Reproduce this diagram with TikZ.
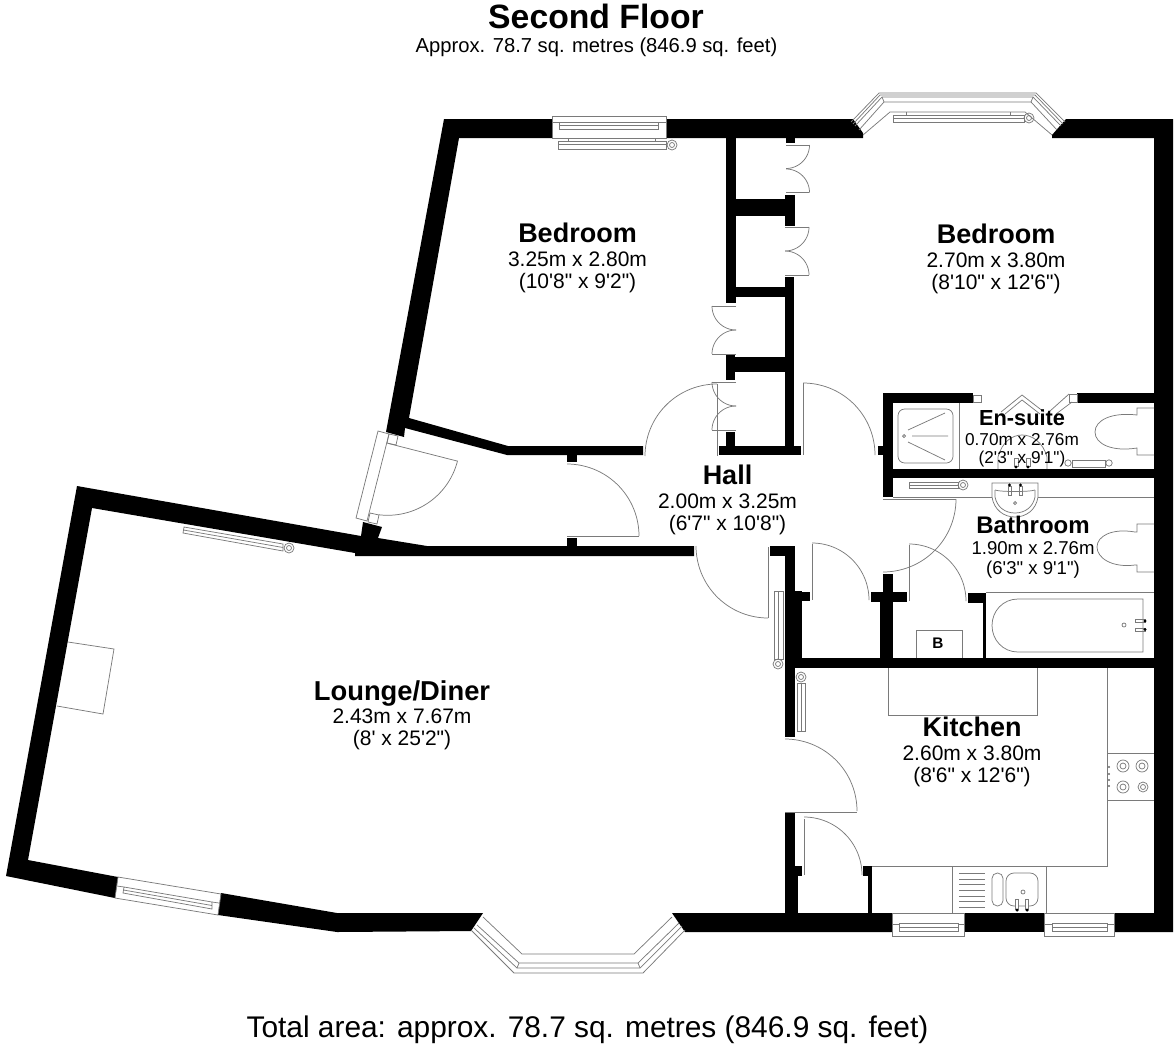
\documentclass[tikz,border=0pt]{standalone}
\usepackage{fontspec}
\setmainfont{Liberation Sans}[Ligatures=TeXOff]
\tikzset{
  fix/.style={draw=black!52,line width=.55pt,line join=miter},
  wall/.style={fill=black,draw=none},
  roomtext/.style={align=center,inner sep=0pt,text=black}
}
\newcommand\swing[5]{\draw[fix] plot[domain=#4:#5,samples=30] ({#1+#3*cos(\x)},{#2+#3*sin(\x)});}
\newcommand\wblock[4]{\fill[wall] (#1,#2) rectangle (#3,#4);}
\newcommand\ring[3]{\draw[fix] (#1,#2) circle[radius=#3*.75pt];}
% name, x, y, title, dim1, dim2, title pt, dim pt, leading pt
\newcommand\room[9]{\node[roomtext,font=\fontsize{#8}{#9}\selectfont] (#1) at (#2,#3) {\fontsize{#7}{#9}\selectfont\bfseries #4\\[1pt]#5\\#6};}
\begin{document}
\begin{tikzpicture}[x=.75pt,y=-.75pt]
\useasboundingbox (0,0) rectangle (1176,1049);
% ---- main walls
\fill[wall] (444,119)--(552,119)--(552,138)--(459,138)--(409,418)--(508,446)--(643,446)--(643,455)--(507,455)--(405,428)--(404,437)--(386,432)--cycle;
\fill[wall] (666,119)--(853,119)--(863,133)--(863,138)--(666,138)--cycle;
\fill[wall] (1066,119)--(1173,119)--(1173,932)--(1114,932)--(1114,913)--(1154,913)--(1154,138)--(1052,138)--(1052,135)--cycle;
\wblock{965}{913}{1044}{932}
\fill[wall] (892,913)--(892,932)--(685,932)--(672,913)--cycle;
\fill[wall] (483,913)--(471,931)--(337,932)--(218,915)--(221,893)--(337,913)--cycle;
\fill[wall] (118,877)--(115,898)--(6,876)--(77,486)--(361,536)--(363,522)--(382,527)--(378,538)--(427,546)--(694,546)--(694,556)--(355,556)--(355,553)--(92,508)--(28,860)--cycle;
% hall stubs
\wblock{567}{455}{577}{462}
\wblock{567}{538}{577}{546}
\wblock{770}{546}{795}{556}
% closets
\wblock{726}{138}{736}{303}
\wblock{736}{199}{786}{216}
\wblock{785}{195}{795}{226}
\wblock{786}{138}{795}{143}
\wblock{736}{287}{785}{297}
\wblock{785}{277}{794}{446}
\wblock{719}{446}{801}{455}
\wblock{726}{357}{785}{372}
\wblock{726}{355}{735}{380}
\wblock{726}{432}{735}{446}
% en-suite / bathroom
\wblock{883}{393}{973}{403}
\wblock{1077}{393}{1154}{403}
\wblock{883}{393}{893}{497}
\wblock{878}{446}{883}{455}
\wblock{893}{469}{1154}{478}
% central block
\wblock{785}{556}{795}{737}
\wblock{795}{591}{802}{658}
\wblock{795}{592}{810}{601}
\wblock{785}{658}{1154}{668}
\wblock{883}{574}{893}{600}
\wblock{880}{600}{893}{658}
\wblock{871}{592}{907}{602}
\wblock{968}{593}{986}{603}
\wblock{983}{603}{986}{658}
% kitchen walls
\wblock{785}{813}{795}{913}
\wblock{795}{875}{798}{913}
\wblock{793}{866}{802}{876}
\wblock{863}{866}{872}{876}
\wblock{868}{876}{872}{913}
% ---- doors
\draw[fix] (567,536)--(639,536); \swing{567}{536}{72}{270}{360}
\draw[fix] (717,384)--(717,456); \swing{717}{456}{72}{180}{270}
\draw[fix] (803,383)--(803,455); \swing{803}{455}{72}{270}{360}
\draw[fix] (883,499)--(956,499); \swing{883}{499}{73}{0}{90}
\draw[fix] (812,544)--(812,600); \swing{812}{600}{57}{270}{360}
\draw[fix] (909,545)--(909,601); \swing{909}{601}{57}{270}{360}
\draw[fix] (768,547)--(768,618); \swing{768}{546}{72}{90}{180}
\draw[fix] (785,812)--(857,812); \swing{785}{811}{72}{270}{360}
\draw[fix] (804,819)--(804,875); \swing{804}{875}{58}{270}{360}
% entrance door
\draw[fix] (378,431)--(356,518)--(367,521)--(389,434)--cycle;
\draw[fix] (389,434)--(398,436)--(396,445)--(387,443)--cycle;
\draw[fix] (370,513)--(379,515)--(377,524)--(368,522)--cycle;
\draw[fix] (387.7,443.3)--(457,461); \swing{387.7}{443.3}{72}{14}{97}
% closet doors
\draw[fix] (786,145)--(809,145); \swing{786}{145}{23.5}{0}{90}
\draw[fix] (786,192.5)--(809,192.5); \swing{786}{192.5}{23.5}{270}{360}
\draw[fix] (785,227)--(809,227); \swing{785}{227}{24}{0}{90}
\draw[fix] (785,275)--(809,275); \swing{785}{275}{24}{270}{360}
\draw[fix] (736,306)--(712,306); \swing{736}{306}{24}{90}{180}
\draw[fix] (736,354)--(712,354); \swing{736}{354}{24}{180}{270}
\draw[fix] (736,382)--(712,382); \swing{736}{382}{24}{90}{180}
\draw[fix] (736,430)--(712,430); \swing{736}{430}{24}{180}{270}
% ---- windows
\draw[fix] (552,116) rectangle (666,138);
\draw[fix] (559,122) rectangle (658,129) (559,125)--(658,125);
\draw[fix] (552,122)--(559,122) (658,122)--(666,122);
\draw[fix] (558,141) rectangle (666,149) (558,144.5)--(666,144.5);
\draw[fix] (568,139)--(568,141) (655,139)--(655,141);
\ring{672}{145}{5} \ring{672}{145}{2.5}
% top bay
\draw[fix] (851,122)--(879,93)--(1036,93)--(1065,122);
\draw[fix] (853,124)--(880,95)--(1035,95)--(1063,124);
\draw[fix] (855,126)--(882,97)--(1033,97)--(1061,126);
\draw[fix] (859,130)--(884,102)--(1031,102)--(1057,130);
\draw[fix] (863,135)--(890,112)--(1025,112)--(1052,135);
\draw[fix] (882,97)--(884,102) (1033,97)--(1031,102);
\draw[fix] (893,115) rectangle (1024,122) (893,118)--(1024,118);
\draw[fix] (906,112)--(906,115) (1010,112)--(1010,115);
\ring{1029}{118}{5} \ring{1029}{118}{2.5}
% bottom bay
\draw[fix] (471,930)--(514,973)--(643,973)--(685,930);
\draw[fix] (474,928)--(517,968)--(640,968)--(682,926);
\draw[fix] (477,925)--(519,963)--(638,963)--(679,923);
\draw[fix] (483,917)--(522,954)--(634,954)--(672,917);
\draw[fix] (517,968)--(519,963) (640,968)--(638,963);
% lounge window
\draw[fix] (118,877)--(221,894)--(218,915)--(115,898)--cycle;
\draw[fix] (124,887)--(212,902)--(212,909)--(123,893)--cycle (123.5,890)--(212,905.5);
\draw[fix] (117,886)--(124,887) (212,902)--(219,903);
% lounge radiator
\draw[fix] (184,527)--(283,544)--(283,551)--(183,533)--cycle (183.5,530)--(283,547.5);
\ring{289}{548}{5} \ring{289}{548}{2.5}
% fireplace
\draw[fix] (68,642)--(114,649)--(103,714)--(57,706);
% kitchen windows
\draw[fix] (892,913) rectangle (964,936);
\draw[fix] (899,923) rectangle (958,931) (899,927)--(958,927) (892,924)--(899,924) (958,924)--(964,924);
\draw[fix] (1044,913) rectangle (1114,936);
\draw[fix] (1052,923) rectangle (1107,931) (1052,927)--(1107,927) (1044,924)--(1052,924) (1107,924)--(1114,924);
% radiators on central wall
\draw[fix] (774,591) rectangle (783,659) (778.5,591)--(778.5,659);
\ring{778}{664}{5} \ring{778}{664}{2.5}
\draw[fix] (797,683) rectangle (805,731) (801,683)--(801,731);
\ring{801}{677}{5} \ring{801}{677}{2.5}
\draw[fix] (909,482) rectangle (958,488) (909,485)--(958,485);
\ring{963}{485}{5} \ring{963}{485}{2.5}
% ---- en-suite fittings
\draw[fix] (973,395) rectangle (981,402);
\draw[fix] (1069,394) rectangle (1077,402);
\draw[fix] (1001,412)--(1022,395)--(1044,412) (1005,414)--(1022,400)--(1040,414);
\draw[fix] (1069,394)--(1050,411) (1072,402)--(1056,414);
\draw[fix] (959,403)--(959,469);
\draw[fix,rounded corners=5pt] (898,409) rectangle (953,463);
\ring{904}{436}{1.5}
\draw[fix] (908,430)--(945,413) (912,436)--(948,436) (908,442)--(945,460);
\draw[fix] (1154,408)--(1137,408)--(1137,415) .. controls (1112,412) and (1095,420) .. (1095,432) .. controls (1095,444) and (1112,452) .. (1137,448)--(1137,455)--(1154,455);
\draw[fix] (998,469)--(998,457) .. controls (1002,442) and (1012,435) .. (1022,435) .. controls (1032,435) and (1043,442) .. (1047,457)--(1047,469);
\draw[fix] (1014,458) rectangle (1018,466) (1026,458) rectangle (1030,466);
\fill (1016,467) circle[radius=1.2pt] (1028,467) circle[radius=1.2pt];
\draw[fix] (1072,460) rectangle (1105,467);
\ring{1068}{463}{3.2} \ring{1109}{463}{3.2}
% ---- bathroom fittings
\draw[fix] (893,497)--(1154,497);
\draw[fix,fill=white] (992,483)--(1038,483)--(1038,497) .. controls (1036,510) and (1026,517) .. (1015,517) .. controls (1004,517) and (994,510) .. (992,497)--cycle;
\draw[fix] (995,490) .. controls (1000,492) and (1030,492) .. (1035,490);
\draw[fix] (995,490)--(995,497) .. controls (997,507) and (1005,513) .. (1015,513) .. controls (1025,513) and (1033,507) .. (1035,497)--(1035,490);
\ring{1015}{503}{1.5}
\draw[fix] (1008,486) rectangle (1011,495) (1019,486) rectangle (1022,495);
\fill (1009.5,485) circle[radius=1.2pt] (1020.5,485) circle[radius=1.2pt];
\draw[fix] (1154,524)--(1137,524)--(1137,532)--(1135,532) .. controls (1112,528) and (1097,536) .. (1097,547) .. controls (1097,558) and (1112,568) .. (1135,565)--(1137,565)--(1137,572)--(1154,572);
\draw[fix] (986,592)--(1154,592);
\draw[fix] (1143,599)--(1018,599) .. controls (1003,599) and (992,611) .. (992,625.5) .. controls (992,640) and (1003,652) .. (1018,652)--(1143,652)--cycle;
\ring{1124}{625}{2}
\draw[fix] (1135,619.5) rectangle (1145,622.5) (1135,628) rectangle (1145,631);
\fill (1145,621) circle[radius=1.2pt] (1145,629.5) circle[radius=1.2pt];
% boiler
\draw[fix] (916,658)--(916,630)--(962,630)--(962,658);
\node[font=\fontsize{11.5pt}{12pt}\selectfont\bfseries,inner sep=0pt] (boiler) at (938,643) {B};
% ---- kitchen fittings
\draw[fix] (888,668)--(888,715)--(1037,715)--(1037,668);
\draw[fix] (1107,668)--(1107,866)--(872,866);
\draw[fix] (1107,753)--(1154,753) (1107,800)--(1154,800);
\ring{1123}{766}{6} \ring{1123}{766}{3}
\ring{1142}{766}{6} \ring{1142}{766}{3}
\ring{1123}{787}{6} \ring{1123}{787}{3}
\ring{1143}{787}{5} \ring{1143}{787}{2.5}
\fill[black!60] (1109,767) circle[radius=.8pt] (1109,774) circle[radius=.8pt] (1109,780) circle[radius=.8pt] (1109,786) circle[radius=.8pt];
\draw[fix] (952,866)--(952,913) (1046,866)--(1046,913);
\draw[fix] (959,873)--(985,873) (959,879)--(985,879) (959,884)--(985,884) (959,890)--(985,890) (959,896)--(985,896) (959,901)--(985,901) (959,907)--(985,907);
\draw[fix,rounded corners=4pt] (992,873) rectangle (1003,906);
\draw[fix,rounded corners=6pt] (1006,873) rectangle (1038,906);
\ring{1023}{892}{2}
\draw[fix,fill=white] (1015.5,899) rectangle (1018.5,909) (1025.5,899) rectangle (1028.5,909);
\fill (1017,910) circle[radius=1.3pt] (1027,910) circle[radius=1.3pt];
% ---- labels
\node[inner sep=0pt,font=\fontsize{25.3pt}{26pt}\selectfont\bfseries] (title) at (596,16) {Second Floor};
\node[inner sep=0pt,font=\fontsize{15.15pt}{16pt}\selectfont] (sub) at (596.5,47.5) {Approx. 78.7 sq. metres (846.9 sq. feet)};
\node[inner sep=0pt,font=\fontsize{22.4pt}{24pt}\selectfont] (total) at (587.5,1030) {Total area: approx. 78.7 sq. metres (846.9 sq. feet)};
\room{bed1}{577.5}{258}{Bedroom}{3.25m x 2.80m}{(10'8" x 9'2")}{20.25}{15.75}{16.5}
\room{bed2}{996}{259}{Bedroom}{2.70m x 3.80m}{(8'10" x 12'6")}{20.25}{15.75}{16.5}
\room{hall}{727.5}{500}{Hall}{2.00m x 3.25m}{(6'7" x 10'8")}{20.25}{15.75}{16.5}
\room{ensuite}{1022}{438.5}{En-suite}{0.70m x 2.76m}{(2'3" x 9'1")}{16.35}{12.9}{14}
\room{bath}{1033}{547}{Bathroom}{1.90m x 2.76m}{(6'3" x 9'1")}{18}{13.95}{15}
\room{kitchen}{972}{752}{Kitchen}{2.60m x 3.80m}{(8'6" x 12'6")}{20.25}{15.75}{16.5}
\room{lounge}{402}{715.5}{Lounge/Diner}{2.43m x 7.67m}{(8' x 25'2")}{20.5}{15.75}{16.5}
\end{tikzpicture}
\end{document}
